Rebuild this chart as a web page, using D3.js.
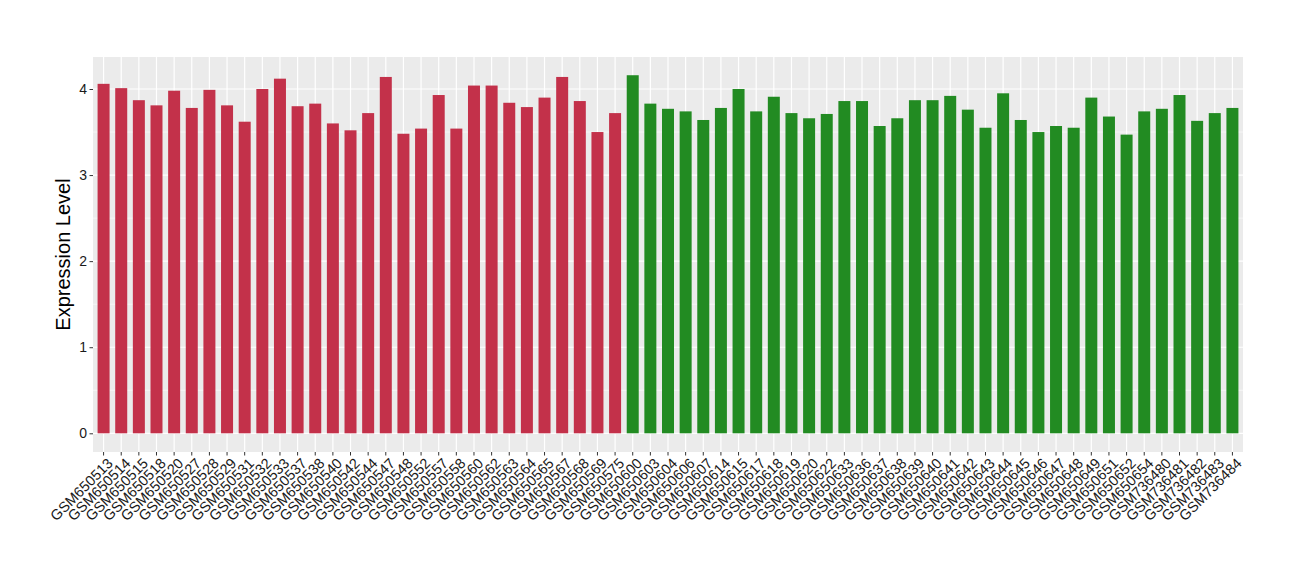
<!DOCTYPE html>
<html><head><meta charset="utf-8">
<script src="https://cdn.jsdelivr.net/npm/d3@7"></script>
<style>body{margin:0;background:#fff;} text{font-family:"Liberation Sans",Arial,sans-serif;}</style>
</head><body><svg id="c" width="1300" height="580"></svg>
<script>
const redSamples = ["GSM650513","GSM650514","GSM650515","GSM650518","GSM650520","GSM650527","GSM650528","GSM650529","GSM650531","GSM650532","GSM650533","GSM650537","GSM650538","GSM650540","GSM650542","GSM650544","GSM650547","GSM650548","GSM650552","GSM650557","GSM650558","GSM650560","GSM650562","GSM650563","GSM650564","GSM650565","GSM650567","GSM650568","GSM650569","GSM650575"];
const redValues = [4.06,4.01,3.87,3.81,3.98,3.78,3.99,3.81,3.62,4.00,4.12,3.80,3.83,3.60,3.52,3.72,4.14,3.48,3.54,3.93,3.54,4.04,4.04,3.84,3.79,3.90,4.14,3.86,3.50,3.72];
const greenSamples = ["GSM650600","GSM650603","GSM650604","GSM650606","GSM650607","GSM650614","GSM650615","GSM650617","GSM650618","GSM650619","GSM650620","GSM650622","GSM650633","GSM650636","GSM650637","GSM650638","GSM650639","GSM650640","GSM650641","GSM650642","GSM650643","GSM650644","GSM650645","GSM650646","GSM650647","GSM650648","GSM650649","GSM650651","GSM650652","GSM650654","GSM736480","GSM736481","GSM736482","GSM736483","GSM736484"];
const greenValues = [4.16,3.83,3.77,3.74,3.64,3.78,4.00,3.74,3.91,3.72,3.66,3.71,3.86,3.86,3.57,3.66,3.87,3.87,3.92,3.76,3.55,3.95,3.64,3.50,3.57,3.55,3.90,3.68,3.47,3.74,3.77,3.93,3.63,3.72,3.78];
const yTicks = [0,1,2,3,4];
const colors = {red:"#c3314a", green:"#228b22"};

const data = redSamples.map((s,i)=>({s, v:redValues[i], g:"red"}))
  .concat(greenSamples.map((s,i)=>({s, v:greenValues[i], g:"green"})));

const svg = d3.select("#c");
const L=93, R=1243, T=57, B=452;
const n = data.length;
const step = (R-L)/(n-1+1.2);
const x = d3.scaleBand().domain(data.map(d=>d.s)).range([L+0.6*step - step/2, R-0.6*step+step/2]).paddingInner(0).paddingOuter(0);
const y = d3.scaleLinear().domain([0,4]).range([433.3, 89]);

svg.append("rect").attr("x",L).attr("y",T).attr("width",R-L).attr("height",B-T).attr("fill","#ebebeb");
const minor = [0.5,1.5,2.5,3.5];
svg.selectAll(".mg").data(minor).enter().append("line")
  .attr("x1",L).attr("x2",R).attr("y1",d=>y(d)).attr("y2",d=>y(d)).attr("stroke","#fff").attr("stroke-width",0.6);
svg.selectAll(".yg").data(yTicks).enter().append("line")
  .attr("x1",L).attr("x2",R).attr("y1",d=>y(d)).attr("y2",d=>y(d)).attr("stroke","#fff").attr("stroke-width",1.2);
svg.selectAll(".xg").data(data).enter().append("line")
  .attr("x1",d=>x(d.s)+x.bandwidth()/2).attr("x2",d=>x(d.s)+x.bandwidth()/2).attr("y1",T).attr("y2",B).attr("stroke","#fff").attr("stroke-width",1.2);

const bw = step*0.68;
svg.selectAll(".bar").data(data).enter().append("rect")
  .attr("x",d=>x(d.s)+x.bandwidth()/2-bw/2).attr("width",bw)
  .attr("y",d=>y(d.v)).attr("height",d=>y(0)-y(d.v))
  .attr("fill",d=>colors[d.g]);

const ya = svg.append("g").attr("transform",`translate(${L},0)`)
  .call(d3.axisLeft(y).tickValues(yTicks).tickSize(3.5).tickPadding(2.5).tickFormat(d3.format("d")));
ya.select(".domain").remove();
ya.selectAll(".tick line").attr("stroke","#333");
ya.selectAll("text").style("font-size","14px").attr("fill","#1a1a1a").attr("font-family",null);

const xa = svg.append("g").attr("transform",`translate(0,${B})`)
  .call(d3.axisBottom(x).tickSize(3.5).tickPadding(2));
xa.select(".domain").remove();
xa.selectAll(".tick line").attr("stroke","#333");
xa.selectAll("text").style("font-size","14.5px").attr("fill","#1a1a1a").attr("font-family",null)
  .attr("text-anchor","end").attr("dy","0.7em")
  .attr("transform","translate(3,5) rotate(-45)").attr("y",0).attr("x",0);

svg.append("text").attr("transform",`translate(70,${(T+B)/2}) rotate(-90)`)
  .attr("text-anchor","middle").style("font-size","20px").attr("fill","#000").text("Expression Level");
</script></body></html>
